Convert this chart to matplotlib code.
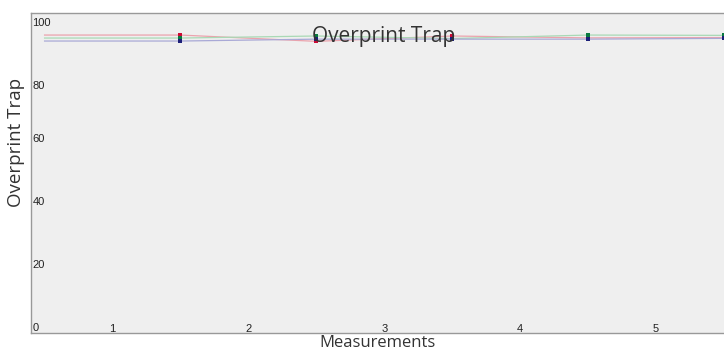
#!/usr/bin/env python3

import matplotlib

matplotlib.use('Agg')
import matplotlib.pyplot as plt


OUT_FILE = 'out.png'

MEASUREMENTS = [0.5, 1.5, 2.5, 3.5, 4.5, 5.5]
X_TICKS = [1, 2, 3, 4, 5]
Y_TICKS = [0, 20, 40, 60, 80, 100]

# first value repeats the second: the line starts flat with no marker
RED_TRAP = [94.6, 94.6, 92.6, 94.3, 93.7, 93.8]
GREEN_TRAP = [93.65, 93.65, 94.3, 93.5, 94.6, 94.5]
BLUE_TRAP = [92.7, 92.7, 93.3, 93.3, 93.3, 93.55]

SERIES = [
    (RED_TRAP, '#eba3ad', '#cc0a35'),
    (GREEN_TRAP, '#a9d9b5', '#0a7a40'),
    (BLUE_TRAP, '#a9a9d6', '#1c1f78'),
]


def main():
    fig = plt.figure(figsize=(7.24, 3.5), dpi=100)
    ax = fig.add_axes([31 / 724, 17 / 350, 693 / 724, 320 / 350])
    ax.set_facecolor('#efefef')

    for values, line_color, marker_color in SERIES:
        ax.plot(MEASUREMENTS, values, color=line_color, linewidth=0.9, zorder=2)
        ax.plot(MEASUREMENTS[1:], values[1:], linestyle='none', marker='s',
                markersize=2.3, markeredgewidth=0, color=marker_color, zorder=3)

    ax.set_xlim(0.4, 5.5)
    ax.set_ylim(0, 101.6)

    for side in ('left', 'bottom', 'top'):
        ax.spines[side].set_color('#999999')
        ax.spines[side].set_linewidth(1.0)
    ax.spines['right'].set_visible(False)

    ax.set_xticks(X_TICKS)
    ax.set_xticklabels([str(t) for t in X_TICKS])
    ax.set_yticks(Y_TICKS)
    ax.set_yticklabels([str(t) for t in Y_TICKS])
    ax.tick_params(axis='both', length=0, labelsize=8, labelcolor='#222222')
    ax.tick_params(axis='x', pad=0.5)
    ax.tick_params(axis='y', pad=-1)
    for label in ax.get_xticklabels():
        label.set_family('Liberation Sans')
        label.set_va('bottom')
    for value, label in zip(Y_TICKS, ax.get_yticklabels()):
        label.set_family('Liberation Sans')
        label.set_ha('left')
        label.set_va('top' if value >= 80 else 'bottom')

    ax.set_xlabel('Measurements', fontsize=12, family='Open Sans',
                  color='#333333', labelpad=1)
    ax.set_ylabel('Overprint Trap', fontsize=13.5, family='Open Sans',
                  color='#333333')
    ax.yaxis.set_label_coords(-0.008, 0.594)
    fig.text(384 / 724, 0.896, 'Overprint Trap', ha='center', va='center',
             fontsize=15, family='Open Sans', color='#333333', zorder=4)
    fig.text(388 / 724, 1.0 + 5 / 350, 'Measurements', ha='center',
             va='center', fontsize=13, family='Open Sans', color='#cccccc')

    fig.savefig(OUT_FILE, dpi=100)
    plt.close(fig)


if __name__ == '__main__':
    main()
